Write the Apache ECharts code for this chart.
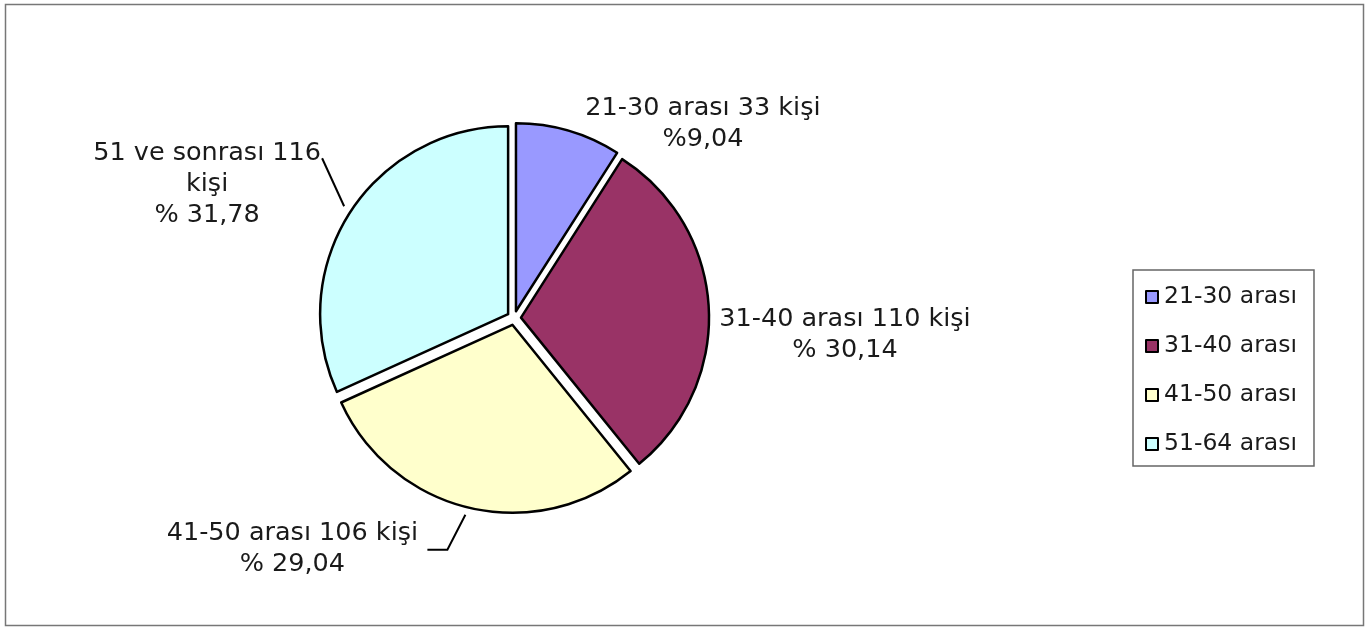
<!DOCTYPE html>
<html>
<head>
<meta charset="utf-8">
<script src="https://cdn.jsdelivr.net/npm/echarts@6/dist/echarts.min.js"></script>
<style>
  html, body { margin: 0; padding: 0; background: #fff; }
  #main { width: 1370px; height: 630px; }
</style>
</head>
<body>
<div id="main"></div>
<script>
// legend names, counts, slice labels
const categories = ['21-30 arası', '31-40 arası', '41-50 arası', '51-64 arası']
const values = [33, 110, 106, 116]
const labelTexts = [
  '21-30 arası 33 kişi\n%9,04',
  '31-40 arası 110 kişi\n% 30,14',
  '41-50 arası 106 kişi\n% 29,04',
  '51 ve sonrası 116\nkişi\n% 31,78'
]
const colors = ['#9999FF', '#993366', '#FFFFCC', '#CCFFFF']

// where each label sits (center x, top y) and its leader line, if any
const labelPos = [
  { x: 701, y: 100, line: null },
  { x: 838, y: 304, line: null },
  { x: 294, y: 511, line: [[467, 508], [449, 543], [429, 543]] },
  { x: 213, y: 142, line: [[350, 210], [339, 186], [328, 162]] }
]

const myChart = echarts.init(document.getElementById('main'))
const option = {
  backgroundColor: '#fff',
  animation: false,
  textStyle: { fontFamily: 'DejaVu Sans, sans-serif' },
  graphic: [{
    type: 'rect',
    shape: { x: 5.5, y: 4.5, width: 1358, height: 621 },
    style: { fill: 'none', stroke: '#777', lineWidth: 1.5 }
  }],
  legend: {
    orient: 'vertical',
    left: 1133,
    top: 270,
    padding: [15, 17, 10, 12],
    itemGap: 25,
    itemWidth: 12,
    itemHeight: 12,
    icon: 'rect',
    backgroundColor: '#fff',
    borderColor: '#666',
    borderWidth: 1.5,
    itemStyle: { borderColor: '#000', borderWidth: 2 },
    textStyle: { fontSize: 23.5, color: '#1a1a1a', padding: [0, 0, 0, 1] },
    data: categories
  },
  series: [{
    type: 'pie',
    center: [514, 318],
    radius: 188,
    startAngle: 90,
    clockwise: true,
    selectedMode: 'multiple',
    selectedOffset: 7,
    emphasis: { disabled: true },
    itemStyle: { borderColor: '#000', borderWidth: 2.5 },
    label: {
      show: true,
      fontSize: 25.5,
      lineHeight: 31,
      color: '#1a1a1a',
      formatter: p => labelTexts[p.dataIndex]
    },
    labelLine: { show: true, lineStyle: { color: '#000', width: 2 } },
    labelLayout: function (params) {
      const pos = labelPos[params.dataIndex]
      const r = params.labelRect
      // anchor of the default layout, depending on the default alignment
      let ax = r.x + r.width / 2
      if (params.align === 'left') ax = r.x
      else if (params.align === 'right') ax = r.x + r.width
      let ay = r.y
      if (params.verticalAlign === 'middle') ay = r.y + r.height / 2
      else if (params.verticalAlign === 'bottom') ay = r.y + r.height
      const out = {
        align: 'center',
        verticalAlign: 'top',
        dx: pos.x - ax,
        dy: pos.y - ay
      }
      if (pos.line) out.labelLinePoints = pos.line
      return out
    },
    data: categories.map((name, i) => ({
      name: name,
      value: values[i],
      selected: true,
      itemStyle: { color: colors[i] },
      labelLine: { show: !!labelPos[i].line }
    }))
  }]
}
option && myChart.setOption(option)
</script>
</body>
</html>
